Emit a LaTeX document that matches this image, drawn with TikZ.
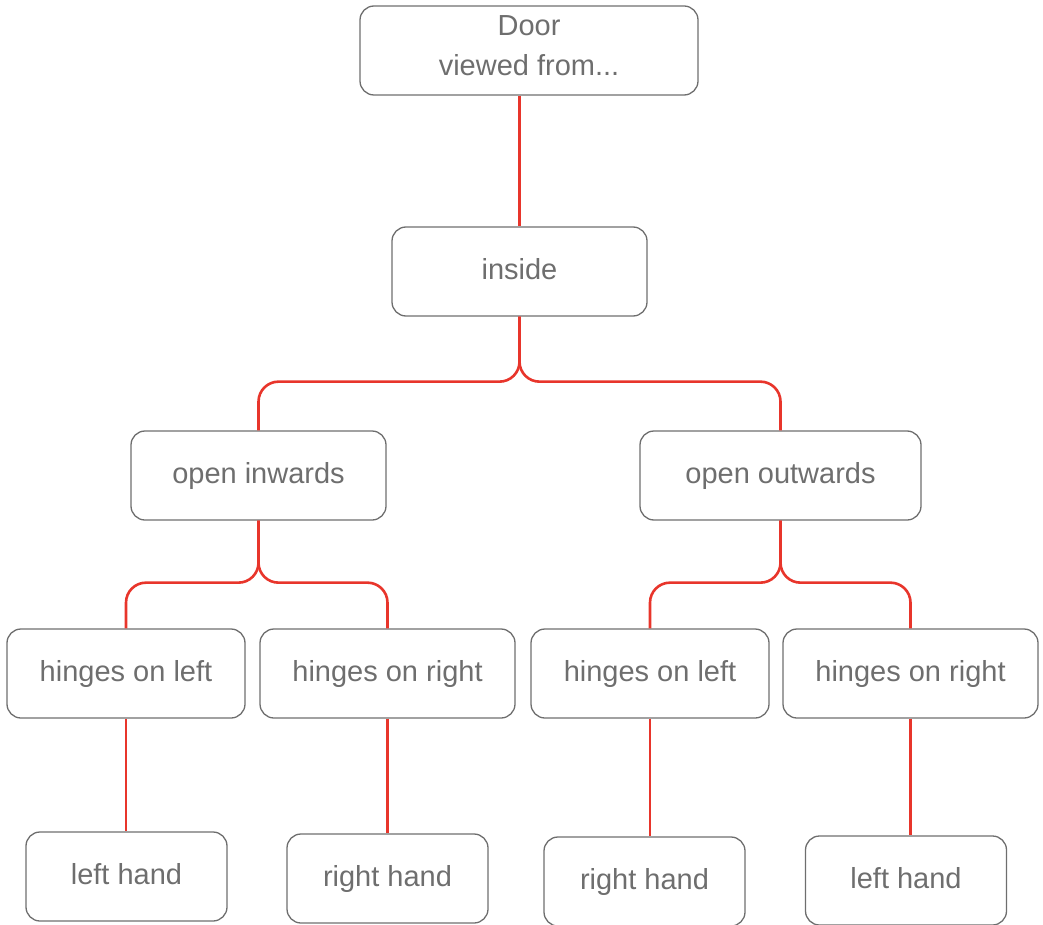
\documentclass[tikz,border=0pt]{standalone}
\usepackage{fontspec}
\setmainfont{Liberation Sans}
\definecolor{boxgray}{HTML}{6E6E6E}
\definecolor{linkred}{HTML}{E8352B}

\begin{document}
\begin{tikzpicture}[x=1pt,y=-1pt,box/.style={shape=rectangle,draw=boxgray,line width=1.3pt,rounded corners=14pt,minimum height=89pt,inner sep=0pt,text=boxgray,font=\fontsize{29}{40}\selectfont},onebox/.style={box,text height=21pt,text depth=5pt},link/.style={draw=linkred,line width=2.6pt,rounded corners=20pt}]
\def\ya{65};
\def\yb{62};

\useasboundingbox (0,0) rectangle (1043,925);

\node[box,minimum width=338pt,align=center,text depth=9pt] (door) at (529,50.5) {Door\\viewed from...};

\node[onebox,minimum width=255pt] (inside) at (519.5,271.5) {inside};
\draw[link] (inside.north |- door.south) -- (inside.north);

\node[onebox,minimum width=255pt] (inw) at (258.5,475.5) {open inwards};
\draw[link] (inside.south) -- ++(0,\ya) -| (inw.north);
\node[onebox,minimum width=281pt] (outw) at (780.5,475.5) {open outwards};
\draw[link] (inside.south) -- ++(0,\ya) -| (outw.north);

\node[onebox,minimum width=238pt] (inwL) at (126,673.5) {hinges on left};
\draw[link] (inw.south) -- ++(0,\yb) -| (inwL.north);
\node[onebox,minimum width=255pt] (inwR) at (387.5,673.5) {hinges on right};
\draw[link] (inw.south) -- ++(0,\yb) -| (inwR.north);
\node[onebox,minimum width=238pt] (outwL) at (650,673.5) {hinges on left};
\draw[link] (outw.south) -- ++(0,\yb) -| (outwL.north);
\node[onebox,minimum width=255pt] (outwR) at (910.5,673.5) {hinges on right};
\draw[link] (outw.south) -- ++(0,\yb) -| (outwR.north);

\node[onebox,minimum width=201pt] (lhA) at (126.5,876.5) {left hand};
\draw[link] (inwL.south) -- (inwL.south |- lhA.north);
\node[onebox,minimum width=201pt] (rhA) at (387.5,878.5) {right hand};
\draw[link] (inwR.south) -- (inwR.south |- rhA.north);
\node[onebox,minimum width=201pt] (rhB) at (644.5,881.5) {right hand};
\draw[link] (outwL.south) -- (outwL.south |- rhB.north);
\node[onebox,minimum width=201pt] (lhB) at (906,880.5) {left hand};
\draw[link] (outwR.south) -- (outwR.south |- lhB.north);
\end{tikzpicture}
\end{document}
